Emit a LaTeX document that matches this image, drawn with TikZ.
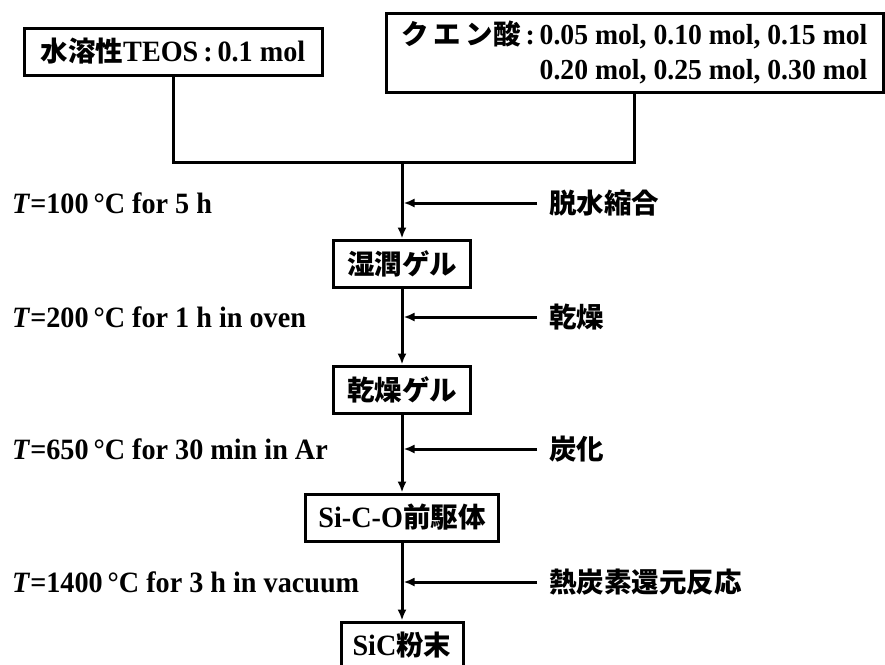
\documentclass[tikz,border=0pt]{standalone}
\usepackage{fontspec}
\setmainfont{Liberation Serif}[FakeStretch=0.955]
\newfontfamily\jpfont{Noto Sans CJK JP}
\usetikzlibrary{arrows.meta}
\newcommand{\J}[1]{{\jpfont\fontsize{27.5}{35}\selectfont\bfseries #1}}
\begin{document}
\begin{tikzpicture}[x=1pt,y=-1pt,
  box/.style={draw, line width=3pt, inner sep=0pt, minimum height=47pt,
    font=\fontsize{29.5}{35}\selectfont\bfseries},
  lab/.style={inner sep=0pt, anchor=west, font=\fontsize{29.5}{35}\selectfont\bfseries},
  conn/.style={line width=3pt},
  arr/.style={line width=3pt, -{Latex[length=11pt,width=9pt]}}]
\clip (0,0) rectangle (885,664);
% top boxes
\node[box, minimum width=298pt] (teos) at (173,51.5) {\J{水溶性}TEOS\,:\,0.1 mol};
\node[box, minimum height=79pt, minimum width=497pt, align=right,
  font=\fontsize{29}{35}\selectfont\bfseries] (cit) at (634.5,52.5)
  {\J{ク\,エ\,ン酸}\,:\,0.05 mol, 0.10 mol, 0.15 mol\\0.20 mol, 0.25 mol, 0.30 mol};
% process boxes
\node[box, minimum width=137pt] (wet) at (402,263.5) {\J{湿潤ゲル}};
\node[box, minimum width=137pt] (dry) at (402,389.5) {\J{乾燥ゲル}};
\node[box, minimum width=193pt] (pre) at (402,517.5) {Si-C-O\J{前駆体}};
\node[box, minimum width=122pt] (sic) at (402,645.5) {SiC\J{粉末}};
% join
\coordinate (join) at (402,162);
\coordinate (jr) at (cit.south |- join);
\draw[conn] (teos.south) |- (jr) -- (cit.south);
% main arrows
\draw[arr] (join) -- (wet.north);
\draw[arr] (wet.south) -- (dry.north);
\draw[arr] (dry.south) -- (pre.north);
\draw[arr] (pre.south) -- (sic.north);
% right labels
\node[lab] (r1) at (549,203) {\J{脱水縮合}};
\node[lab] (r2) at (549,317) {\J{乾燥}};
\node[lab] (r3) at (549,449) {\J{炭化}};
\node[lab] (r4) at (549,582) {\J{熱炭素還元反応}};
\foreach \r in {r1,r2,r3,r4}
  \draw[arr, shorten >=1.5pt] ([xshift=-12pt]\r.west) -- (\r.west -| wet.center);
% left labels
\node[lab] (l1) at (12,203) {\textit{T}=100\,°C for 5 h};
\node[lab] (l2) at (12,317) {\textit{T}=200\,°C for 1 h in oven};
\node[lab] (l3) at (12,449) {\textit{T}=650\,°C for 30 min in Ar};
\node[lab] (l4) at (12,582) {\textit{T}=1400\,°C for 3 h in vacuum};
\end{tikzpicture}
\end{document}
